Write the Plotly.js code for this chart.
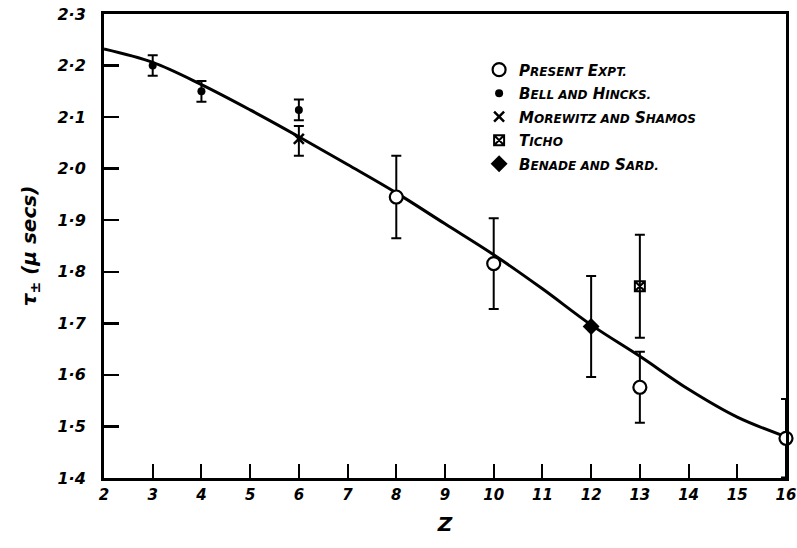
<!DOCTYPE html>
<html>
<head>
<meta charset="utf-8">
<script src="https://cdn.plot.ly/plotly-3.0.1.min.js"></script>
<style>html,body{margin:0;padding:0;background:#fff;}#chart{width:797px;height:548px;}</style>
</head>
<body>
<div id="chart"></div>
<script>
// Fitted curve
const curveZ   = [2, 3, 4, 5, 6, 7, 8, 9, 10, 11, 12, 13, 14, 15, 16];
const curveTau = [2.232, 2.206, 2.163, 2.114, 2.062, 2.008, 1.953, 1.893, 1.833, 1.767, 1.697, 1.636, 1.572, 1.518, 1.48];

// Present experiment
const presentZ   = [8, 10, 13, 16];
const presentTau = [1.945, 1.816, 1.576, 1.477];
const presentErr = [0.08, 0.088, 0.069, 0.076];

// Bell and Hincks
const bellZ   = [3, 4, 6];
const bellTau = [2.200, 2.150, 2.114];
const bellErr = [0.02, 0.02, 0.02];

// Morewitz and Shamos
const morZ      = [6];
const morTau    = [2.058];
const morErrUp  = [0.025];
const morErrDn  = [0.033];

// Ticho
const tichoZ   = [13];
const tichoTau = [1.772];
const tichoErr = [0.1];

// Benade and Sard
const benZ   = [12];
const benTau = [1.694];
const benErr = [0.098];

const yTickVals = [1.4, 1.5, 1.6, 1.7, 1.8, 1.9, 2.0, 2.1, 2.2, 2.3];
const yTickText = ['1·4', '1·5', '1·6', '1·7', '1·8', '1·9', '2·0', '2·1', '2·2', '2·3'];
const xTickVals = [2, 3, 4, 5, 6, 7, 8, 9, 10, 11, 12, 13, 14, 15, 16];

function sc(first, rest) {
  return first + '<span style="font-size:12px">' + rest + '</span>';
}
const legendNames = [
  sc('P', 'RESENT') + ' ' + sc('E', 'XPT.'),
  sc('B', 'ELL AND') + ' ' + sc('H', 'INCKS.'),
  sc('M', 'OREWITZ AND') + ' ' + sc('S', 'HAMOS'),
  sc('T', 'ICHO'),
  sc('B', 'ENADE AND') + ' ' + sc('S', 'ARD.')
];

const ebar = (arr) => ({type: 'data', array: arr, visible: true, color: '#000', thickness: 2, width: 5});

const traces = [
  {x: curveZ, y: curveTau, mode: 'lines', line: {color: '#000', width: 3, shape: 'spline'}, showlegend: false, hoverinfo: 'skip'},
  {x: presentZ, y: presentTau, mode: 'markers', name: legendNames[0], legendgroup: 'a',
   marker: {symbol: 'circle', size: 13, color: '#fff', line: {color: '#000', width: 2.2}},
   error_y: ebar(presentErr), cliponaxis: false},
  {x: bellZ, y: bellTau, mode: 'markers', name: legendNames[1], legendgroup: 'b',
   marker: {symbol: 'circle', size: 8, color: '#000'},
   error_y: ebar(bellErr)},
  {x: morZ, y: morTau, mode: 'markers', name: legendNames[2], legendgroup: 'c',
   marker: {symbol: 'x-thin-open', size: 10, color: '#000', line: {color: '#000', width: 2.5}},
   error_y: {type: 'data', symmetric: false, array: morErrUp, arrayminus: morErrDn, visible: true, color: '#000', thickness: 2, width: 5}},
  {x: tichoZ, y: tichoTau, mode: 'markers', name: legendNames[3], legendgroup: 'd',
   marker: {symbol: 'square-x-open', size: 10, color: '#000', line: {color: '#000', width: 2}},
   error_y: ebar(tichoErr)},
  {x: benZ, y: benTau, mode: 'markers', name: legendNames[4], legendgroup: 'e',
   marker: {symbol: 'diamond', size: 13, color: '#000'},
   error_y: ebar(benErr)}
];

const xTickFont = {family: 'DejaVu Sans', size: 15, color: '#000', weight: 'bold', style: 'italic'};
const yTickFont = {family: 'DejaVu Sans', size: 16, color: '#000', weight: 'bold', style: 'italic'};

const layout = {
  width: 797, height: 548,
  margin: {l: 104, r: 11, t: 14, b: 70},
  paper_bgcolor: '#fff', plot_bgcolor: '#fff',
  showlegend: true,
  legend: {
    x: 0.55, y: 0.915, xanchor: 'left', yanchor: 'top',
    bgcolor: 'rgba(0,0,0,0)', borderwidth: 0,
    traceorder: 'grouped', tracegroupgap: 1,
    font: {family: 'DejaVu Sans', size: 15, color: '#000', weight: 'bold', style: 'italic'},
    itemwidth: 30
  },
  xaxis: {
    range: [2, 16], showgrid: false, zeroline: false,
    showline: true, linecolor: '#000', linewidth: 3, mirror: true,
    tickvals: xTickVals, ticks: 'inside', ticklen: 14, tickwidth: 2, tickcolor: '#000',
    tickfont: xTickFont, ticklabelstandoff: 1, ticklabeloverflow: 'allow',
    title: {text: 'Z', font: {family: 'DejaVu Sans', size: 20, color: '#000', weight: 'bold', style: 'italic'}, standoff: 14}
  },
  yaxis: {
    range: [1.4, 2.3], showgrid: false, zeroline: false,
    showline: true, linecolor: '#000', linewidth: 3, mirror: true,
    tickvals: yTickVals, ticktext: yTickText, ticks: 'inside', ticklen: 15, tickwidth: 2.5, tickcolor: '#000',
    tickfont: yTickFont, ticklabelstandoff: 12, ticklabeloverflow: 'allow',
    title: {text: 'τ<sub>±</sub> (μ secs)', font: {family: 'DejaVu Sans', size: 20, color: '#000', weight: 'bold', style: 'italic'}, standoff: 16}
  }
};

Plotly.newPlot('chart', traces, layout, {displayModeBar: false, staticPlot: true});
</script>
</body>
</html>
